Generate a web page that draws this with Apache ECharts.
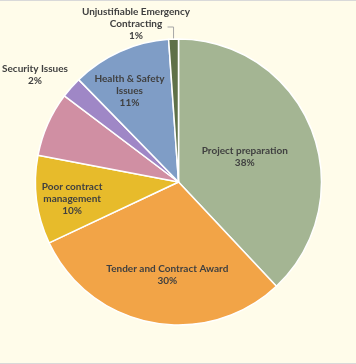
<!DOCTYPE html>
<html>
<head>
<meta charset="utf-8">
<script src="https://cdn.jsdelivr.net/npm/echarts@6/dist/echarts.min.js"></script>
<style>
html,body{margin:0;padding:0;background:#d9d9d9;}
#c{width:356px;height:362px;margin-top:1px;background:#fffcea;}
</style>
</head>
<body>
<div id="c"></div>
<script>
const categories = ['Project preparation','Tender and Contract Award','Poor contract\nmanagement','Other','Security Issues','Health & Safety\nIssues','Unjustifiable Emergency\nContracting'];
const values = [38, 30, 10, 7.3, 2.4, 11.2, 1.1];
const colors = ['#a4b593','#f2a447','#e7bb2b','#d08fa3','#9f87c6','#7f9dc6','#5f7148'];
const showLabel = [true, true, true, false, true, true, true];
const outside = [false, false, false, false, true, false, true];

const CX = 178.5, CY = 181, R = 143;
// radial factor and nudges for inside labels; target centers for outside labels
const insideFactor = [1.0, 1.3, 1.48, 1, 1, 1.38, 1];
const nudge = [[-3, 2], [7, -2], [3, 3], [0, 0], [0, 0], [-7, 3], [0, 0]];
const outsideSpot = {4: [35, 74], 6: [136, 23]};

const chart = echarts.init(document.getElementById('c'));
chart.setOption({
  backgroundColor: '#fffcea',
  animation: false,
  series: [{
    type: 'pie',
    center: [CX, CY],
    radius: [0, R],
    startAngle: 90,
    clockwise: true,
    avoidLabelOverlap: false,
    itemStyle: {borderColor: '#ffffff', borderWidth: 1.5},
    label: {
      show: true,
      position: 'inside',
      formatter: function (p) { return p.name + '\n' + Math.round(p.value) + '%'; },
      color: '#404040',
      fontFamily: 'Lato',
      fontWeight: 'bold',
      fontSize: 10,
      lineHeight: 12,
      align: 'center'
    },
    labelLine: {show: false, lineStyle: {color: '#a6a6a6', width: 1}},
    data: categories.map((n, i) => ({
      name: n,
      value: values[i],
      itemStyle: {color: colors[i]},
      label: {show: showLabel[i], position: outside[i] ? 'outside' : 'inside'},
      labelLine: {show: i === 6, length: 8, length2: 6}
    })),
    labelLayout: function (p) {
      const i = p.dataIndex;
      const r = p.labelRect;
      const lx = r.x + r.width / 2, ly = r.y + r.height / 2;
      if (outsideSpot[i]) {
        const s = outsideSpot[i];
        const out = {x: s[0], y: s[1], align: 'center', verticalAlign: 'middle'};
        if (i === 6 && p.labelLinePoints) {
          const p0 = p.labelLinePoints[0];
          out.labelLinePoints = [[p0[0], p0[1]], [p0[0], 26], [p0[0] - 6, 26]];
        }
        return out;
      }
      const k = insideFactor[i];
      return {x: CX + (lx - CX) * k + nudge[i][0], y: CY + (ly - CY) * k + nudge[i][1], align: 'center', verticalAlign: 'middle'};
    }
  }]
});
</script>
</body>
</html>
